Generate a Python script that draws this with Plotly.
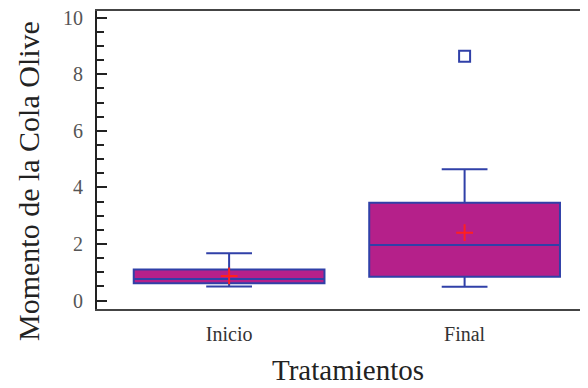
import plotly.graph_objects as go

categories = ["Inicio", "Final"]
q1 = [0.61, 0.84]
median = [0.76, 1.96]
q3 = [1.10, 3.46]
lower_whisker = [0.50, 0.49]
upper_whisker = [1.67, 4.64]
means = [0.87, 2.40]
outlier_cats = ["Final"]
outlier_vals = [8.64]

FILL = "#b5208a"
LINE = "#3040a8"
FONT = "Liberation Serif, Times New Roman, serif"

fig = go.Figure()
for i, c in enumerate(categories):
    fig.add_trace(go.Box(
        x=[c], q1=[q1[i]], median=[median[i]], q3=[q3[i]],
        lowerfence=[lower_whisker[i]], upperfence=[upper_whisker[i]],
        width=0.81, whiskerwidth=0.24,
        fillcolor=FILL, line=dict(color=LINE, width=2),
        boxpoints=False, showlegend=False, hoverinfo="skip",
    ))

fig.add_trace(go.Scatter(
    x=categories, y=means, mode="markers", showlegend=False,
    marker=dict(symbol="cross-thin", size=12, color="#ff2020",
                line=dict(color="#ff2020", width=2)),
))
fig.add_trace(go.Scatter(
    x=outlier_cats, y=outlier_vals, mode="markers", showlegend=False,
    marker=dict(symbol="square-open", size=11, color=LINE,
                line=dict(color=LINE, width=2)),
))

fig.update_layout(
    width=580, height=380,
    margin=dict(l=89, r=0, t=3, b=79),
    paper_bgcolor="white", plot_bgcolor="white",
    font=dict(family=FONT),
    xaxis=dict(
        type="category", categoryorder="array", categoryarray=categories,
        range=[-0.561, 1.524], showgrid=False, zeroline=False,
        showline=True, mirror=True, linecolor="#444", linewidth=2,
        ticks="", tickfont=dict(size=20, color="#333", family=FONT),
        ticklabelstandoff=6,
    ),
    yaxis=dict(
        range=[-0.30, 10.24], dtick=2, tick0=0, showgrid=False, zeroline=False,
        showline=True, linecolor="#222", linewidth=2,
        ticks="inside", ticklen=10, tickwidth=2, tickcolor="#222",
        minor=dict(dtick=0.5, ticks="inside", ticklen=7, tickwidth=2, tickcolor="#222"),
        tickfont=dict(size=20, color="#555", family=FONT),
        ticklabelstandoff=8, ticklabeloverflow="allow", automargin=False,
    ),
    annotations=[
        dict(text="Momento de la Cola Olive", xref="paper", yref="paper",
             x=-0.1405, y=0.4295, xanchor="center", yanchor="middle",
             textangle=-90, showarrow=False,
             font=dict(size=30, color="#222", family=FONT)),
        dict(text="Tratamientos", xref="paper", yref="paper",
             x=0.511, y=-0.205, xanchor="center", yanchor="middle",
             showarrow=False, font=dict(size=29, color="#222", family=FONT)),
    ],
)

fig.write_html("out.html")
